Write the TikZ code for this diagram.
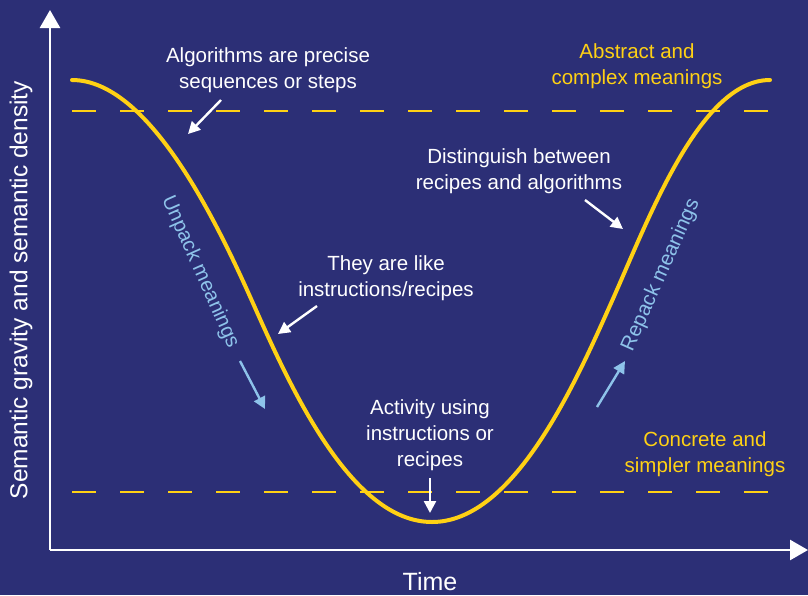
\documentclass[tikz,border=0pt]{standalone}
\usepackage{fontspec}
\setmainfont{Liberation Sans}
\usetikzlibrary{arrows.meta}
\definecolor{navy}{RGB}{44,47,118}
\definecolor{gold}{RGB}{255,209,20}
\definecolor{skyblue}{RGB}{142,195,234}
\tikzset{
  txt/.style={align=center, text=white, font=\fontsize{20.5}{25.8}\selectfont},
  gold txt/.style={txt, text=gold},
  turn/.style={text=skyblue, font=\fontsize{20.5}{24}\selectfont},
  callout/.style={white, line width=2.4pt, -{Triangle[length=12pt,width=12pt]}},
  blue callout/.style={callout, skyblue},
  level/.style={gold, line width=1.8pt, dash pattern=on 24pt off 24pt},
  axis/.style={white, line width=2.6pt, -{Triangle[length=18pt,width=20pt]}}
}
\begin{document}
\begin{tikzpicture}[x=1pt,y=-1pt]
        \fill[navy] (0,0) rectangle (808,595);
        \useasboundingbox (0,0) rectangle (808,595);

        \coordinate (O) at (50,550);
        \coordinate (ytop) at (50,10);
        \coordinate (xend) at (808,550);
        \draw[axis] (O) -- (ytop);
        \draw[axis] (O) -- (xend);
        \node[txt, font=\fontsize{25}{28}\selectfont] (time) at (430,582) {Time};
        \node[txt, rotate=90, font=\fontsize{24.5}{28}\selectfont] (ylab) at (21,290) {Semantic gravity and semantic density};

        \draw[level] (72,111) -- (772,111);
        \draw[level] (72,492) -- (772,492);

        \draw[gold, line width=4pt, line cap=round]
            (72,80) .. controls (148,80) and (215,218) .. (252,301)
                    .. controls (289,384) and (350,522) .. (432,522)
                    .. controls (514,522) and (575,384) .. (612,301)
                    .. controls (649,218) and (700,80) .. (770,80);

        \node[txt] (precise) at (268,70) {Algorithms are precise\\sequences or steps};
        \coordinate (precise from) at (221,100);
        \coordinate (precise to) at (188,134);
        \draw[callout] (precise from) -- (precise to);

        \node[gold txt] (abstract) at (637,66) {Abstract and\\complex meanings};

        \node[txt] (distinguish) at (519,171) {Distinguish between\\recipes and algorithms};
        \coordinate (dist from) at (585,200);
        \coordinate (dist to) at (623,229);
        \draw[callout] (dist from) -- (dist to);

        \node[turn, rotate=-66] (unpack) at (200,272) {Unpack meanings};
        \coordinate (unpack from) at (240,361);
        \coordinate (unpack to) at (265,409);
        \draw[blue callout] (unpack from) -- (unpack to);

        \node[txt] (like) at (386,278) {They are like\\instructions/recipes};
        \coordinate (like from) at (317,306);
        \coordinate (like to) at (278,334);
        \draw[callout] (like from) -- (like to);

        \node[turn, rotate=66] (repack) at (661,275) {Repack meanings};
        \coordinate (repack from) at (597,407);
        \coordinate (repack to) at (625,361);
        \draw[blue callout] (repack from) -- (repack to);

        \node[txt] (activity) at (430,435) {Activity using\\instructions or\\recipes};
        \coordinate (activity from) at (430,478);
        \coordinate (activity to) at (430,513);
        \draw[callout] (activity from) -- (activity to);

        \node[gold txt] (concrete) at (705,454) {Concrete and\\simpler meanings};
\end{tikzpicture}
\end{document}
